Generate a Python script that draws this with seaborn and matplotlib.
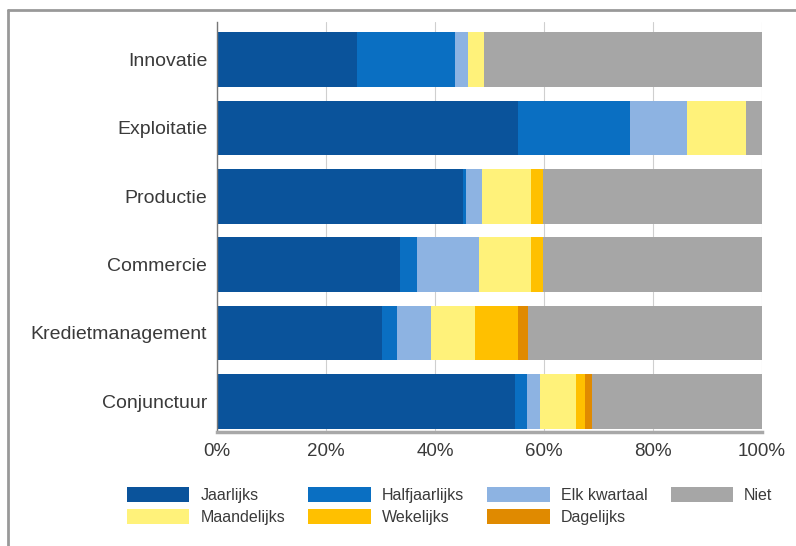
import numpy as np
import pandas as pd
import seaborn as sns
import matplotlib.pyplot as plt
from matplotlib.patches import Patch
from matplotlib.lines import Line2D

# data (percent of respondents)
areas = ["Innovatie", "Exploitatie", "Productie", "Commercie",
         "Kredietmanagement", "Conjunctuur"]
freqs = ["Jaarlijks", "Halfjaarlijks", "Elk kwartaal", "Maandelijks",
         "Wekelijks", "Dagelijks", "Niet"]
jaarlijks = [25.7, 55.2, 45.2, 33.6, 30.2, 54.7]
halfjaarlijks = [18.0, 20.6, 0.4, 3.1, 2.8, 2.1]
elk_kwartaal = [2.3, 10.5, 3.0, 11.3, 6.3, 2.4]
maandelijks = [3.0, 10.8, 9.0, 9.6, 8.1, 6.6]
wekelijks = [0.0, 0.0, 2.2, 2.2, 7.9, 1.8]
dagelijks = [0.0, 0.0, 0.0, 0.0, 1.7, 1.2]
niet = [51.0, 2.9, 40.2, 40.2, 43.0, 31.2]
ticks = [0, 20, 40, 60, 80, 100]
tick_labels = ["0%", "20%", "40%", "60%", "80%", "100%"]

colors = ["#0A539B", "#0A6FC2", "#8DB3E2", "#FFF27A",
          "#FFC000", "#E08A00", "#A6A6A6"]

df = pd.DataFrame(
    dict(zip(freqs, [jaarlijks, halfjaarlijks, elk_kwartaal, maandelijks,
                     wekelijks, dagelijks, niet])),
    index=areas)
cum = df.cumsum(axis=1)

sns.set_style("white")
plt.rcParams["font.family"] = ["Liberation Sans", "DejaVu Sans"]

fig = plt.figure(figsize=(7.96, 5.46), dpi=100)
ax = fig.add_axes([217 / 796, 1 - 432 / 546, 545 / 796, 410 / 546])

# stacked bars: draw cumulative totals from the back to the front
for name, col in reversed(list(zip(freqs, colors))):
    sns.barplot(x=cum[name].values, y=areas, orient="h", color=col,
                saturation=1, width=0.8, linewidth=0, ax=ax)

ax.set_xlim(0, 100)
ax.set_ylim(5.45, -0.55)
ax.set_xticks(ticks)
ax.set_xticklabels(tick_labels)
ax.set_xlabel("")
ax.set_ylabel("")
ax.xaxis.grid(True, color="#cfcfcf", lw=0.8)
ax.set_axisbelow(True)

for s in ["top", "right"]:
    ax.spines[s].set_visible(False)
ax.spines["left"].set_color("#777777")
ax.spines["left"].set_linewidth(1.0)
ax.spines["bottom"].set_color("#a8a8a8")
ax.spines["bottom"].set_linewidth(2.5)

ax.tick_params(axis="x", length=5, width=1, color="#777777", pad=3,
               labelsize=13.5, labelcolor="#3a3a3a")
ax.tick_params(axis="y", length=0, pad=7, labelsize=14, labelcolor="#3a3a3a")

# legend in the column order of the reference
order = [0, 3, 1, 4, 2, 5, 6]
handles = [Patch(facecolor=colors[i], edgecolor="none", label=freqs[i])
           for i in order]
fig.legend(handles=handles, loc="upper left", ncol=4, frameon=False,
           bbox_to_anchor=(127 / 796, 1 - 487 / 546), borderaxespad=0,
           borderpad=0, fontsize=11.5, handlelength=3.9, handleheight=1.1,
           handletextpad=0.7, columnspacing=1.45, labelspacing=0.35,
           labelcolor="#3a3a3a")

# thin grey frame around the chart (top and left edges)
fig.add_artist(Line2D([8 / 796, 8 / 796], [0, 1 - 10 / 546],
                      transform=fig.transFigure, color="#999999", lw=2))
fig.add_artist(Line2D([8 / 796, 1], [1 - 10 / 546, 1 - 10 / 546],
                      transform=fig.transFigure, color="#999999", lw=2))

fig.savefig("out.png", dpi=100)
